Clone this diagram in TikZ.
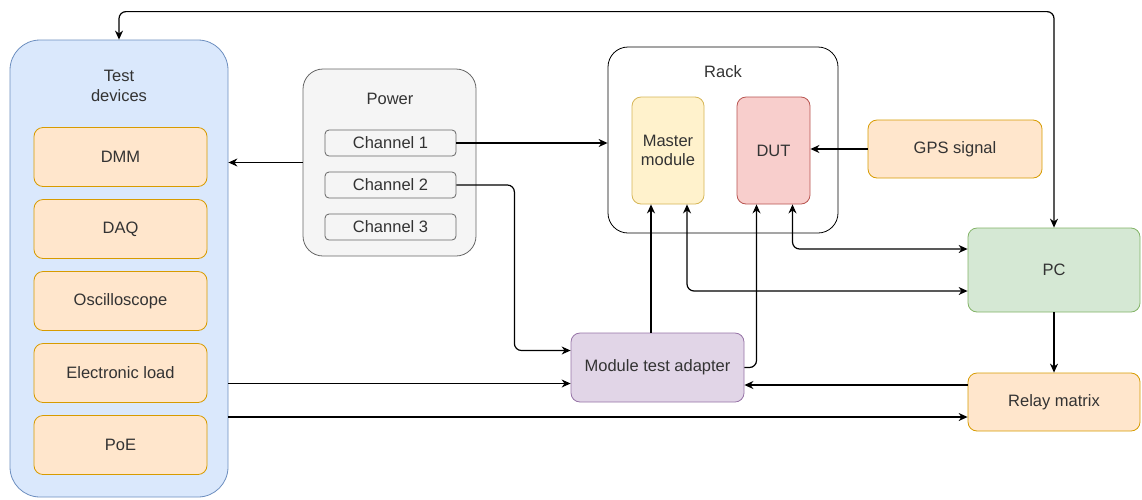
\documentclass[tikz,border=0pt]{standalone}
\usepackage{fontspec}
\setmainfont{Liberation Sans}
\usetikzlibrary{arrows.meta}
\definecolor{bluefill}{HTML}{DAE8FC}\definecolor{blueline}{HTML}{6C8EBF}
\definecolor{orangefill}{HTML}{FFE6CC}\definecolor{orangeline}{HTML}{D79B00}
\definecolor{grayfill}{HTML}{F5F5F5}\definecolor{grayline}{HTML}{666666}
\definecolor{yellowfill}{HTML}{FFF2CC}\definecolor{yellowline}{HTML}{D6B656}
\definecolor{redfill}{HTML}{F8CECC}\definecolor{redline}{HTML}{B85450}
\definecolor{greenfill}{HTML}{D5E8D4}\definecolor{greenline}{HTML}{82B366}
\definecolor{purplefill}{HTML}{E1D5E7}\definecolor{purpleline}{HTML}{9673A6}
\definecolor{textgray}{HTML}{333333}
\begin{document}
\begin{tikzpicture}
[x=1pt,y=-1pt,
  boxdecorate/.style={draw,line width=0.8pt,rounded corners=9pt,inner sep=0pt,
    align=center,text=textgray,font=\fontsize{16.5}{19.5}\selectfont},
  devicedecorate/.style={boxdecorate,fill=orangefill,draw=orangeline,
    minimum width=173pt,minimum height=59pt},
  channeldecorate/.style={boxdecorate,fill=grayfill,draw=grayline,rounded corners=4pt,
    minimum width=131pt,minimum height=26pt},
  linedecorate/.style={line width=1.2pt,rounded corners=7pt,
    -{Stealth[length=9pt,width=8pt]}},
  bothdecorate/.style={linedecorate,
    {Stealth[length=9pt,width=8pt]}-{Stealth[length=9pt,width=8pt]}}]
\useasboundingbox (0,0) rectangle (1142,499);
%% containers
\node (tests) at (119,268.5) [boxdecorate,fill=bluefill,draw=blueline,rounded corners=30pt,
  minimum width=218pt,minimum height=457pt] {};
\node at (119,86) [text=textgray,font=\fontsize{16.5}{19.5}\selectfont,align=center] {Test\\devices};
\node (power) at (389.5,162.5) [boxdecorate,fill=grayfill,draw=grayline,rounded corners=20pt,
  minimum width=173pt,minimum height=187pt] {};
\node at (390,99) [text=textgray,font=\fontsize{16.5}{19.5}\selectfont] {Power};
\node (rack) at (723,140) [boxdecorate,fill=white,draw=black,rounded corners=20pt,
  minimum width=230pt,minimum height=186pt] {};
\node at (723,72) [text=textgray,font=\fontsize{16.5}{19.5}\selectfont] {Rack};
%% test devices and power channels
\foreach \nodename/\y/\name in {dmm/157/DMM, daq/229/DAQ, osc/301/Oscilloscope,
  eload/373/Electronic load, poe/445/PoE} {
  \node (\nodename) at (120.5,\y) [devicedecorate] {\name};
}
\foreach \nodename/\y/\name in {chone/143/Channel 1, chtwo/185/Channel 2,
  chthree/227/Channel 3} {
  \node (\nodename) at (390.5,\y) [channeldecorate] {\name};
}
%% other blocks
\node (master) at (668,150.5) [boxdecorate,fill=yellowfill,draw=yellowline,
  minimum width=72pt,minimum height=107pt] {Master\\module};
\node (dut) at (773.5,150.5) [boxdecorate,fill=redfill,draw=redline,
  minimum width=73pt,minimum height=107pt] {DUT};
\node (gps) at (955,149) [boxdecorate,fill=orangefill,draw=orangeline,
  minimum width=174pt,minimum height=58pt] {GPS signal};
\node (pc) at (1054,270) [boxdecorate,fill=greenfill,draw=greenline,
  minimum width=172pt,minimum height=84pt] {PC};
\node (relay) at (1054,402) [boxdecorate,fill=orangefill,draw=orangeline,
  minimum width=172pt,minimum height=58pt] {Relay matrix};
\node (adapter) at (657.5,367.5) [boxdecorate,fill=purplefill,draw=purpleline,
  minimum width=173pt,minimum height=69pt] {Module test adapter};
%% connection points
\coordinate (adapterin) at ([yshift=-16pt]adapter.west);
\coordinate (relayin) at ([yshift=-15pt]relay.west);
\coordinate (relayout) at ([yshift=17pt]relay.west);
\coordinate (pcdut) at ([yshift=21pt]pc.west);
\coordinate (pcmaster) at ([yshift=-21pt]pc.west);
%% edges or lines
\draw[linedecorate] (power.west) -- (power.west -| tests.east);
\draw[linedecorate] (chone.east) -- (chone.east -| rack.west);
\draw[linedecorate] (chtwo.east) -- ++(58,0) |- ([yshift=17pt]adapter.west);
\draw[linedecorate] (adapterin -| tests.east) -- (adapterin);
\draw[linedecorate] (relayin -| tests.east) -- (relayin);
\draw[linedecorate] (relayout) -- (relayout -| adapter.east);
\draw[linedecorate] (adapter.east) -| ([xshift=-17pt]dut.south);
\draw[linedecorate] ([xshift=-17pt]master.south |- adapter.north) -- ([xshift=-17pt]master.south);
\draw[bothdecorate] ([xshift=19pt]dut.south) |- (pcdut);
\draw[bothdecorate] ([xshift=19pt]master.south) |- (pcmaster);
\draw[linedecorate] (gps.west) -- (gps.west -| dut.east);
\draw[linedecorate] (pc.south) -- (relay.north);
\draw[bothdecorate] (pc.north) |- ([yshift=28pt]tests.north) -- (tests.north);
\end{tikzpicture}
\end{document}
